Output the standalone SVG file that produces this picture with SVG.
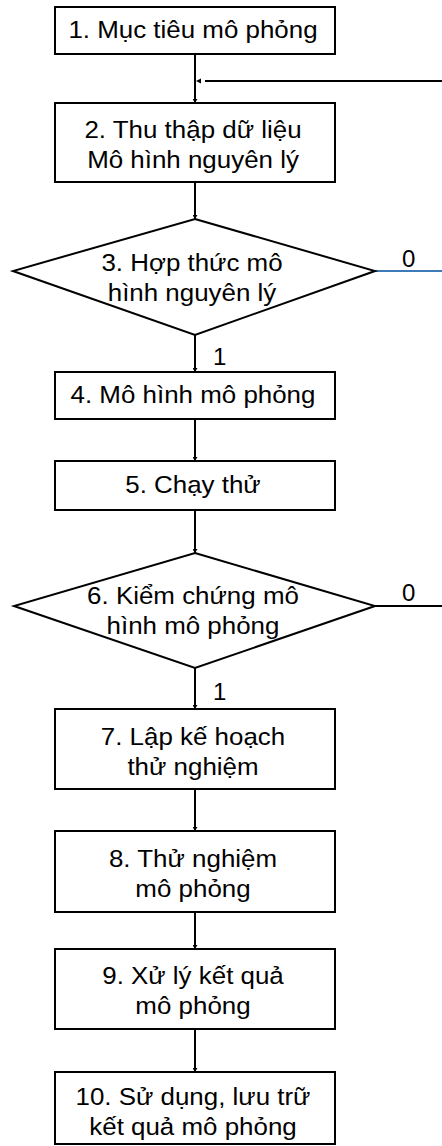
<svg xmlns="http://www.w3.org/2000/svg" width="442" height="1146" viewBox="0 0 442 1146">
  <defs>
    <marker id="arrow" viewBox="0 0 4 5" refX="4" refY="2.5" markerWidth="4" markerHeight="5" markerUnits="userSpaceOnUse" orient="auto">
      <path d="M0,0 L4,2.5 L0,5 z" fill="#000"/>
    </marker>
    <style>
      .box { fill: #fff; stroke: #000; stroke-width: 2; }
      .dia { fill: #fff; stroke: #000; stroke-width: 2; }
      .lbl { font-family: "Liberation Sans", Arial, sans-serif; font-size: 24px; fill: #000; text-anchor: middle; }
      .tag { font-family: "Liberation Sans", Arial, sans-serif; font-size: 24px; fill: #000; }
      .wire { fill: none; stroke: #000; stroke-width: 2; }
      .flow { marker-end: url(#arrow); }
    </style>
  </defs>
  <rect width="442" height="1146" fill="#fff"/>

  <!-- connectors -->
  <g id="connectors">
    <line class="wire flow" x1="195" y1="54" x2="195" y2="103"/>
    <line class="wire" x1="442" y1="81" x2="205" y2="81"/>
    <path d="M196,81 L201,78.5 L201,83.5 z" fill="#000"/>
    <line class="wire flow" x1="195" y1="182" x2="195" y2="219"/>
    <line class="wire flow" x1="195" y1="335" x2="195" y2="372"/>
    <line class="wire flow" x1="195" y1="419" x2="195" y2="461"/>
    <line class="wire flow" x1="195" y1="510" x2="195" y2="553"/>
    <line class="wire flow" x1="195" y1="668" x2="195" y2="709"/>
    <line class="wire flow" x1="195" y1="789" x2="195" y2="831"/>
    <line class="wire flow" x1="195" y1="912" x2="195" y2="949"/>
    <line class="wire flow" x1="195" y1="1029" x2="195" y2="1072"/>
    <line x1="375" y1="271" x2="442" y2="271" stroke="#3d7ab8" stroke-width="2"/>
    <line class="wire" x1="375" y1="606" x2="442" y2="606"/>
    <text class="tag" x="402" y="267">0</text>
    <text class="tag" x="402" y="601">0</text>
    <text class="tag" x="213" y="365">1</text>
    <text class="tag" x="213" y="700">1</text>
  </g>

  <g id="n1">
    <rect class="box" x="55" y="7" width="280" height="47"/>
    <text class="lbl" x="193" y="38" transform="translate(193 0) scale(1.08 1) translate(-193 0)">1. Mục tiêu mô phỏng</text>
  </g>

  <g id="n2">
    <rect class="box" x="55" y="103" width="280" height="79"/>
    <text class="lbl" x="193" y="138" transform="translate(193 0) scale(1.08 1) translate(-193 0)">2. Thu thập dữ liệu</text>
    <text class="lbl" x="193" y="168" transform="translate(193 0) scale(1.08 1) translate(-193 0)">Mô hình nguyên lý</text>
  </g>

  <g id="n3">
    <polygon class="dia" points="195,219 375,271 195,335 13,271"/>
    <text class="lbl" x="192" y="271" transform="translate(192 0) scale(1.08 1) translate(-192 0)">3. Hợp thức mô</text>
    <text class="lbl" x="192" y="301" transform="translate(192 0) scale(1.08 1) translate(-192 0)">hình nguyên lý</text>
  </g>

  <g id="n4">
    <rect class="box" x="55" y="372" width="280" height="47"/>
    <text class="lbl" x="193" y="403" transform="translate(193 0) scale(1.08 1) translate(-193 0)">4. Mô hình mô phỏng</text>
  </g>

  <g id="n5">
    <rect class="box" x="55" y="461" width="280" height="49"/>
    <text class="lbl" x="193" y="493" transform="translate(193 0) scale(1.08 1) translate(-193 0)">5. Chạy thử</text>
  </g>

  <g id="n6">
    <polygon class="dia" points="195,553 375,606 195,668 14,606"/>
    <text class="lbl" x="193" y="604" transform="translate(193 0) scale(1.08 1) translate(-193 0)">6. Kiểm chứng mô</text>
    <text class="lbl" x="193" y="634" transform="translate(193 0) scale(1.08 1) translate(-193 0)">hình mô phỏng</text>
  </g>

  <g id="n7">
    <rect class="box" x="55" y="709" width="280" height="80"/>
    <text class="lbl" x="193" y="745" transform="translate(193 0) scale(1.08 1) translate(-193 0)">7. Lập kế hoạch</text>
    <text class="lbl" x="193" y="775" transform="translate(193 0) scale(1.08 1) translate(-193 0)">thử nghiệm</text>
  </g>

  <g id="n8">
    <rect class="box" x="55" y="831" width="280" height="81"/>
    <text class="lbl" x="193" y="867" transform="translate(193 0) scale(1.08 1) translate(-193 0)">8. Thử nghiệm</text>
    <text class="lbl" x="193" y="897" transform="translate(193 0) scale(1.08 1) translate(-193 0)">mô phỏng</text>
  </g>

  <g id="n9">
    <rect class="box" x="55" y="949" width="280" height="80"/>
    <text class="lbl" x="193" y="984" transform="translate(193 0) scale(1.08 1) translate(-193 0)">9. Xử lý kết quả</text>
    <text class="lbl" x="193" y="1014" transform="translate(193 0) scale(1.08 1) translate(-193 0)">mô phỏng</text>
  </g>

  <g id="n10">
    <rect class="box" x="55" y="1072" width="280" height="72"/>
    <text class="lbl" x="193" y="1105" transform="translate(193 0) scale(1.08 1) translate(-193 0)">10. Sử dụng, lưu trữ</text>
    <text class="lbl" x="193" y="1135" transform="translate(193 0) scale(1.08 1) translate(-193 0)">kết quả mô phỏng</text>
  </g>
</svg>
